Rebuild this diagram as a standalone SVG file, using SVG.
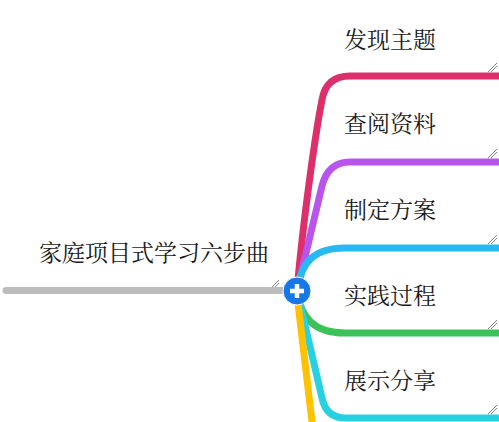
<svg xmlns="http://www.w3.org/2000/svg" width="499" height="422" viewBox="0 0 499 422">
<style>
.t{font-family:"Noto Serif CJK SC","Noto Sans CJK SC",sans-serif;font-size:23px;fill:#1a1a1a}
.b{fill:none;stroke-width:7;stroke-linecap:round;stroke-linejoin:round}
.m{stroke:#777;stroke-width:0.9;fill:none}
</style>
<rect width="499" height="422" fill="#fff"/>
<g id="connectors">
<path class="b" stroke="#bcbcbc" d="M6,290.5 L292,290.5"/>
<path class="b" stroke="#dc2f6b" d="M297,291 C303,220 316,130 322,100 Q326,76 350,76 L505,76"/>
<path class="b" stroke="#b955ec" d="M297,291 L322,186 Q328,162 350,162 L505,162"/>
<path class="b" stroke="#28b9f2" d="M297,291 C301,262 314,248 345,248 L505,248"/>
<path class="b" stroke="#3dc25a" d="M297,291 C301,318 314,333 345,333 L505,333"/>
<path class="b" stroke="#27d1e2" d="M298,295 L322,398 Q326,418 346,418 L505,418"/>
<path class="b" stroke="#fec200" d="M297,295 L313,430"/>
</g>
<g id="root">
<text class="t" x="39" y="261">家庭项目式学习六步曲</text>
<path class="m" d="M272,287 L279,280 M275,287 L279,283"/>
<circle cx="297" cy="291" r="14" fill="#1677e8" stroke="#fff" stroke-width="1"/>
<path d="M297,284 V298 M290,291 H304" stroke="#fff" stroke-width="4.5"/>
</g>
<g id="n1"><text class="t" x="344" y="48">发现主题</text><path class="m" d="M488,72 L497,63 M491,72 L497,66"/></g>
<g id="n2"><text class="t" x="344" y="132">查阅资料</text><path class="m" d="M488,158 L497,149 M491,158 L497,152"/></g>
<g id="n3"><text class="t" x="344" y="218">制定方案</text><path class="m" d="M488,244 L497,235 M491,244 L497,238"/></g>
<g id="n4"><text class="t" x="344" y="304">实践过程</text><path class="m" d="M488,329 L497,320 M491,329 L497,323"/></g>
<g id="n5"><text class="t" x="344" y="389">展示分享</text><path class="m" d="M488,414 L497,405 M491,414 L497,408"/></g>
</svg>
